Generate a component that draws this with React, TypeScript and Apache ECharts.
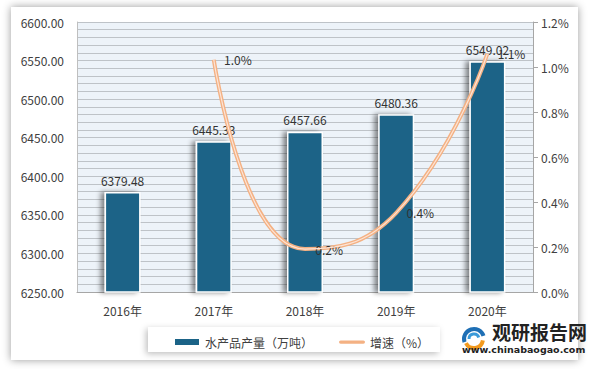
import React, { useEffect, useRef } from "react";
import * as echarts from "echarts";

const categories = ["2016年", "2017年", "2018年", "2019年", "2020年"];
const production = [6379.48, 6445.33, 6457.66, 6480.36, 6549.02];
const growth = [null, 1.032, 0.191, 0.352, 1.059];
const leftTicks = { min: 6250, max: 6600, interval: 50 };
const rightTicks = { min: 0, max: 1.2, interval: 0.2 };

const FONT = "'Microsoft YaHei','Noto Sans CJK SC','Noto Sans',sans-serif";

export default function App() {
  const ref = useRef<HTMLDivElement>(null);
  useEffect(() => {
    if (!ref.current) return;
    const chart = echarts.init(ref.current, undefined, { renderer: "svg" });
    const option: any = {
      animation: false,
      backgroundColor: "#ffffff",
      textStyle: { fontFamily: FONT },
      graphic: [
        {
          type: "rect",
          z: -10,
          shape: { x: 11, y: 7, width: 567, height: 353 },
          style: { fill: "#fff", shadowColor: "rgba(0,0,0,0.4)", shadowBlur: 9 },
          silent: true,
        },
        {
          type: "rect",
          z: -5,
          shape: { x: 148, y: 327, width: 292, height: 25 },
          style: { fill: "#fff", shadowColor: "rgba(0,0,0,0.25)", shadowBlur: 6, shadowOffsetX: -2, shadowOffsetY: 2 },
          silent: true,
        },
        {
          type: "arc",
          shape: { cx: 474, cy: 339, r: 10, startAngle: Math.PI * 0.9, endAngle: Math.PI * 1.9 },
          style: { stroke: "#1E6FB5", lineWidth: 4, fill: "none" },
        },
        {
          type: "arc",
          shape: { cx: 474, cy: 339, r: 5, startAngle: Math.PI * 1.0, endAngle: Math.PI * 1.9 },
          style: { stroke: "#3A9AD9", lineWidth: 3, fill: "none" },
        },
        {
          type: "arc",
          shape: { cx: 474, cy: 339, r: 9, startAngle: Math.PI * 0.05, endAngle: Math.PI * 0.85 },
          style: { stroke: "#F39A1E", lineWidth: 4, fill: "none" },
        },
        {
          type: "text",
          x: 492,
          y: 322,
          style: { text: "观研报告网", font: "bold 19px 'Noto Sans CJK SC',sans-serif", fill: "#222" },
        },
        {
          type: "text",
          x: 462,
          y: 344,
          style: { text: "www.chinabaogao.com", font: "bold 9.5px 'DejaVu Sans',sans-serif", fill: "#222" },
        },
      ],
      legend: {
        left: 168,
        top: 331,
        itemGap: 26,
        itemWidth: 26,
        itemHeight: 8,
        textStyle: { fontSize: 12, color: "#404040", fontFamily: FONT },
        data: [
          { name: "水产品产量（万吨）", icon: "rect" },
          {
            name: "增速（%）",
            icon: "path://M2,0 L58,0 A2,2 0 0 1 58,8 L2,8 A2,2 0 0 1 2,0 Z",
            itemStyle: { color: "#F4B183", opacity: 1 },
          },
        ],
      },
      grid: {
        left: 77,
        top: 22,
        right: 58,
        bottom: 77,
        show: true,
        backgroundColor: "#EDF3F9",
        borderWidth: 0,
      },
      xAxis: {
        type: "category",
        data: categories,
        axisLine: { show: true, lineStyle: { color: "#A6A6A6", width: 1 } },
        axisTick: { show: false },
        axisLabel: { color: "#404040", fontSize: 12, margin: 12, fontFamily: FONT },
      },
      yAxis: [
        {
          type: "value",
          ...leftTicks,
          axisLine: { show: true, lineStyle: { color: "#BFBFBF" } },
          axisTick: { show: false },
          axisLabel: {
            color: "#404040",
            fontSize: 12,
            margin: 13,
            fontFamily: FONT,
            formatter: (v: number) => v.toFixed(2),
          },
          splitLine: { show: true, lineStyle: { color: "#BEC3C8", width: 1.2 } },
          minorTick: { show: false, splitNumber: 5 },
          minorSplitLine: { show: true, lineStyle: { color: "#BEC3C8", width: 1.2 } },
        },
        {
          type: "value",
          ...rightTicks,
          position: "right",
          axisLine: { show: true, lineStyle: { color: "#A6A6A6" } },
          axisTick: { show: true, inside: false, length: 5, lineStyle: { color: "#A6A6A6" } },
          axisLabel: {
            color: "#404040",
            fontSize: 12,
            margin: 8,
            fontFamily: FONT,
            formatter: (v: number) => v.toFixed(1) + "%",
          },
          splitLine: { show: false },
        },
      ],
      series: [
        {
          name: "水产品产量（万吨）",
          type: "bar",
          data: production,
          barWidth: 36,
          itemStyle: {
            color: "#1B6387",
            borderColor: "#ffffff",
            borderWidth: 1.5,
            shadowColor: "rgba(0,0,0,0.45)",
            shadowBlur: 5,
            shadowOffsetX: -4,
          },
          label: {
            show: true,
            position: "top",
            distance: 6,
            color: "#333",
            fontSize: 12,
            fontFamily: FONT,
            formatter: (p: any) => p.value.toFixed(2),
          },
        },
        {
          name: "增速（%）",
          type: "line",
          yAxisIndex: 1,
          data: growth,
          smooth: 0.5,
          symbol: "circle",
          symbolSize: 0.5,
          showSymbol: true,
          itemStyle: { color: "rgba(244,177,131,0)" },
          lineStyle: { color: "#F4B183", width: 4 },
          label: {
            show: true,
            position: "right",
            distance: 10,
            color: "#333",
            fontSize: 12,
            fontFamily: FONT,
            formatter: (p: any) => {
              const v = Array.isArray(p.value) ? p.value[1] : p.value;
              return v == null ? "" : Number(v).toFixed(1) + "%";
            },
          },
          z: 5,
        },
        {
          name: "增速线",
          type: "line",
          yAxisIndex: 1,
          data: growth,
          smooth: 0.5,
          symbol: "none",
          lineStyle: { color: "#FCE4D6", width: 1.2 },
          z: 6,
          silent: true,
        },
      ],
    };
    chart.setOption(option);
    return () => chart.dispose();
  }, []);
  return (
    <div style={{ position: "fixed", left: 0, top: 0, width: 591, height: 369 }}>
      <div ref={ref} style={{ width: 591, height: 369 }} />
    </div>
  );
}
